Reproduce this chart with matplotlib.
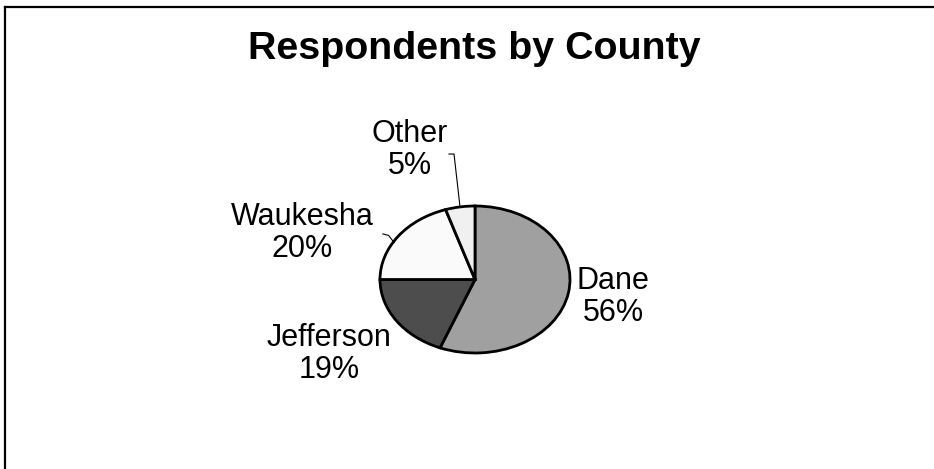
#!/usr/bin/env python3
"""Pie chart: respondents by county."""
import matplotlib as mpl
mpl.use("Agg")
import matplotlib.pyplot as plt
from matplotlib.lines import Line2D
import numpy as np

mpl.rcParams.update({
    "font.family": ["Liberation Sans", "DejaVu Sans"],
})

counties = ["Dane", "Jefferson", "Waukesha", "Other"]
shares = [56, 19, 20, 5]
colors = ["#a0a0a0", "#4d4d4d", "#fafafa", "#f0f0f0"]
title = "Respondents by County"

W, H = 934, 469
fig = plt.figure(figsize=(W / 100, H / 100), dpi=100)

# pie box in pixels (center 475, 279.5; radii 95 x 73.5)
cx, cy, rx, ry = 475, 279.5, 95, 73.5
ax = fig.add_axes([(cx - rx) / W, 1 - (cy + ry) / H, 2 * rx / W, 2 * ry / H])
wedges, _ = ax.pie(shares, colors=colors, startangle=90, counterclock=False,
                   wedgeprops=dict(edgecolor="black", linewidth=2.0))
ax.set_aspect("auto")
ax.set_xlim(-1, 1)
ax.set_ylim(-1, 1)

# label positions in pie units (x per rx, y per ry)
label_pos = {
    "Dane": (1.453, -0.238),
    "Jefferson": (-1.537, -1.014),
    "Waukesha": (-1.821, 0.633),
    "Other": (-0.684, 1.762),
}
for name, val in zip(counties, shares):
    x, y = label_pos[name]
    ax.text(x, y, f"{name}\n{val}%", ha="center", va="center", fontsize=22,
            linespacing=1.05, clip_on=False)

# leader lines for the small slices
for w, name in zip(wedges, counties):
    mid = np.deg2rad((w.theta1 + w.theta2) / 2)
    ex, ey = np.cos(mid), np.sin(mid)
    if name == "Other":
        ax.plot([-0.274, -0.221, ex * 1.02], [1.707, 1.707, ey * 1.02],
                color="black", lw=0.8, clip_on=False)
    elif name == "Waukesha":
        ax.plot([-0.97, -0.91, ex * 0.99 - 0.05], [0.62, 0.6, ey * 0.99 - 0.08],
                color="black", lw=0.8, clip_on=False)

fig.text(474 / W, 1 - 49 / H, title, ha="center", va="center",
         fontsize=28.4, fontweight="bold")

# chart border (top and left edges visible)
fig.add_artist(Line2D([5 / W, 1], [1 - 7 / H, 1 - 7 / H], color="black", lw=1.6,
                      transform=fig.transFigure))
fig.add_artist(Line2D([5 / W, 5 / W], [0, 1 - 7 / H], color="black", lw=1.6,
                      transform=fig.transFigure))

fig.savefig("out.png", dpi=100)
